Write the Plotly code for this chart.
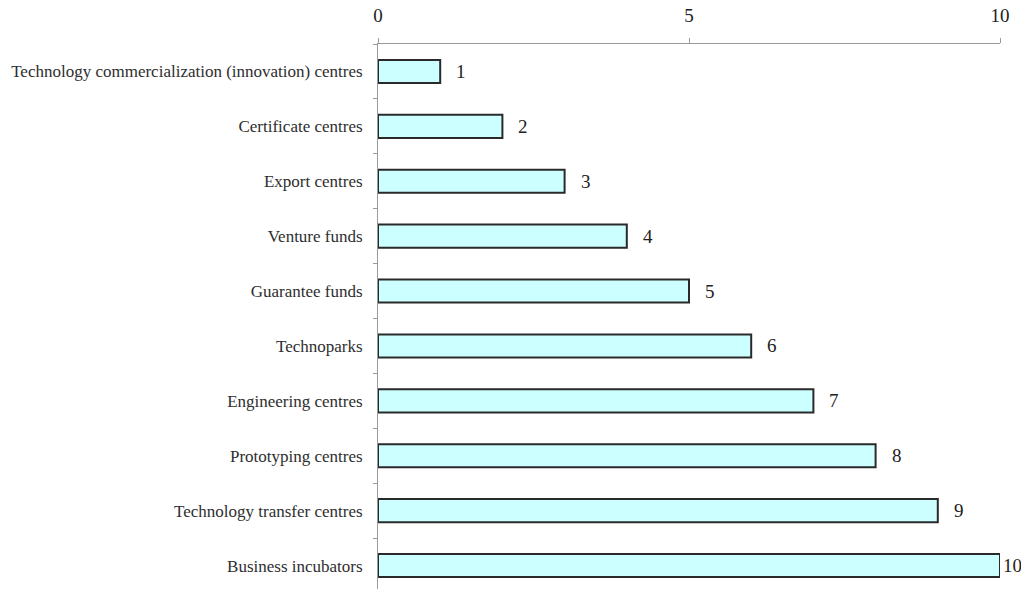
import plotly.graph_objects as go

categories = [
    "Technology commercialization (innovation) centres",
    "Certificate centres",
    "Export centres",
    "Venture funds",
    "Guarantee funds",
    "Technoparks",
    "Engineering centres",
    "Prototyping centres",
    "Technology transfer centres",
    "Business incubators",
]
values = [1, 2, 3, 4, 5, 6, 7, 8, 9, 10]
x_ticks = [0, 5, 10]

FIG_W, FIG_H = 1021, 589
M_L, M_R, M_T, M_B = 378, 21, 44, 0
SERIF = "Liberation Serif, Times New Roman, serif"

fig = go.Figure(
    go.Bar(
        y=categories,
        x=values,
        orientation="h",
        width=0.42,
        marker=dict(color="#ccffff", line=dict(color="#2a2a2a", width=2)),
        hoverinfo="skip",
    )
)

# value labels just right of each bar, kept inside the page
plot_w = FIG_W - M_L - M_R
x_max = 10
for cat, v in zip(categories, values):
    px_end = v / x_max * plot_w
    label = str(v)
    label_w = 9 * len(label)
    shift = 14
    if M_L + px_end + shift + label_w > FIG_W - 2:
        shift = FIG_W - 2 - label_w - (M_L + px_end)
    fig.add_annotation(
        x=v, y=cat, text=label, showarrow=False,
        xanchor="left", yanchor="middle", xshift=shift,
        font=dict(family=SERIF, size=19, color="#222222"),
    )

row_px = 54.9
span = (FIG_H - M_T - M_B) / row_px

fig.update_layout(
    width=FIG_W, height=FIG_H,
    margin=dict(l=M_L, r=M_R, t=M_T, b=M_B),
    paper_bgcolor="white", plot_bgcolor="white",
    showlegend=False,
    xaxis=dict(
        side="top", range=[0, x_max], tickvals=x_ticks,
        showgrid=False, zeroline=False,
        showline=True, linecolor="#9a9a9a", linewidth=1,
        ticks="outside", ticklen=5, tickcolor="#9a9a9a",
        ticklabelstandoff=8,
        tickfont=dict(family=SERIF, size=19, color="#222222"),
        fixedrange=True,
    ),
    yaxis=dict(
        type="category", categoryorder="array", categoryarray=categories,
        range=[-0.5 + span, -0.5],
        showgrid=False, zeroline=False,
        showline=True, linecolor="#9a9a9a", linewidth=1,
        ticks="outside", ticklen=4, tickcolor="#9a9a9a",
        tickson="boundaries",
        ticklabelstandoff=11,
        tickfont=dict(family=SERIF, size=17, color="#2e2e2e"),
        fixedrange=True,
    ),
)

fig.write_html("out.html")
